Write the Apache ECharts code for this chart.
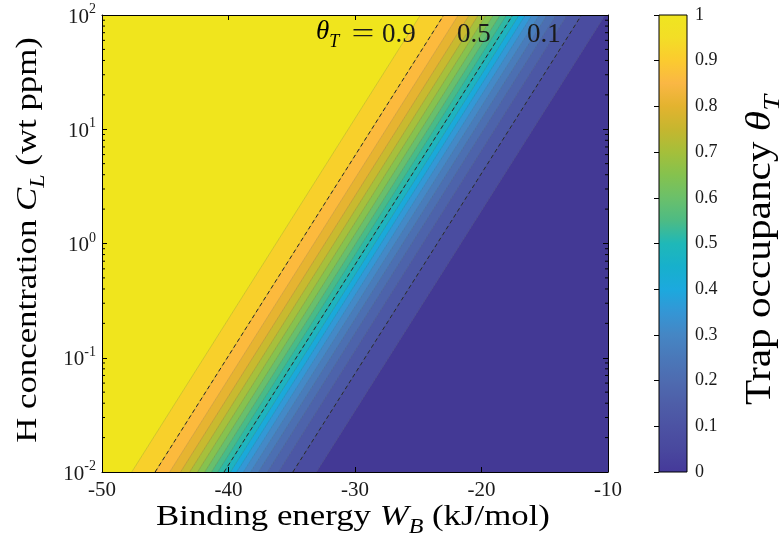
<!DOCTYPE html>
<html>
<head>
<meta charset="utf-8">
<script src="https://cdn.jsdelivr.net/npm/echarts@6/dist/echarts.min.js"></script>
<style>html,body{margin:0;padding:0;background:#fff;}#c{width:783px;height:549px;}</style>
</head>
<body>
<div id="c"></div>
<script>
// ---- data ----
const wbTicks = [-50, -40, -30, -20, -10];          // x tick labels (kJ/mol)
const clExponents = [-2, -1, 0, 1, 2];               // y ticks: 10^e wt ppm
const cbTicks = [0, 0.1, 0.2, 0.3, 0.4, 0.5, 0.6, 0.7, 0.8, 0.9, 1];
// contour levels of theta_T
const levels = [0.05, 0.10, 0.15, 0.20, 0.25, 0.30, 0.35, 0.40, 0.45, 0.50,
                0.55, 0.60, 0.65, 0.70, 0.75, 0.80, 0.85, 0.90, 0.95];
// W_B where each contour crosses C_L = 1e-2 (bottom) and C_L = 1e2 (top)
const wbAtLowC  = [-33.05, -34.91, -36.05, -36.92, -37.63, -38.25, -38.82, -39.35, -39.85, -40.35,
                   -40.85, -41.35, -41.88, -42.45, -43.07, -43.79, -44.65, -45.80, -47.65];
const wbAtHighC = [-10.23, -12.09, -13.23, -14.10, -14.81, -15.43, -16.00, -16.53, -17.03, -17.53,
                   -18.03, -18.53, -19.06, -19.63, -20.25, -20.97, -21.83, -22.98, -24.83];
// fill colour of each band, from theta < 0.05 up to theta > 0.95
const bandColors = ['#433995', '#4A4CA0', '#4C57A5', '#4D63AB', '#4C6FB2', '#497CBB', '#4489C7',
                    '#3398D6', '#1AA9DA', '#1DB3C0', '#2DB8A5', '#48BB88', '#68BF6D', '#86C24F',
                    '#A6C03C', '#C8BA2F', '#E6B431', '#FCBA3D', '#F8D02B', '#F0E51D'];
const dashedLevels = [0.1, 0.5, 0.9];
const levelLabels = ['0.9', '0.5', '0.1'];
// colorbar gradient
const cbStopValues = [0, 0.05, 0.1, 0.15, 0.2, 0.25, 0.3, 0.35, 0.4, 0.45, 0.5,
                      0.55, 0.6, 0.65, 0.7, 0.75, 0.8, 0.85, 0.9, 0.95, 1];
const cbStopColors = ['#45399A', '#49489E', '#4C52A3', '#4E5EA8', '#4E6BB0', '#4A78B9', '#4586C4',
                      '#3496D5', '#1CA9DE', '#17B0CC', '#1FB8B8', '#4DBB84', '#6BC06A', '#85C24E',
                      '#A5BF3A', '#C6B62F', '#E3B32F', '#FAB744', '#FBCB2F', '#F3DE26', '#EFE520'];

const xMin = wbTicks[0], xMax = wbTicks[wbTicks.length - 1];
const cMin = Math.pow(10, clExponents[0]), cMax = Math.pow(10, clExponents[clExponents.length - 1]);

// minor log ticks
const minorVals = [];
for (let e = clExponents[0]; e < clExponents[clExponents.length - 1]; e++) {
  for (let m = 2; m <= 9; m++) minorVals.push(m * Math.pow(10, e));
}

// bands: [leftLow, cMin, leftHigh, cMax, rightHigh, rightLow]
const bandData = bandColors.map((c, k) => {
  const leftLow  = k === levels.length ? xMin : wbAtLowC[k];
  const leftHigh = k === levels.length ? xMin : wbAtHighC[k];
  const rightLow  = k === 0 ? xMax : wbAtLowC[k - 1];
  const rightHigh = k === 0 ? xMax : wbAtHighC[k - 1];
  return [leftLow, cMin, leftHigh, cMax, rightHigh, rightLow];
});
const lineData = levels.map((l, i) => [wbAtLowC[i], cMin, wbAtHighC[i], cMax]);

const FONT = 'Liberation Serif';
const TXT = '#1a1a1a';

function clipOf(params) {
  const cs = params.coordSys;
  return { type: 'rect', shape: { x: cs.x, y: cs.y, width: cs.width, height: cs.height } };
}

const dashedSeries = dashedLevels.map(l => {
  const i = levels.findIndex(v => Math.abs(v - l) < 1e-9);
  return {
    type: 'line', xAxisIndex: 0, yAxisIndex: 0, z: 4, silent: true,
    showSymbol: false, symbol: 'none',
    data: [[wbAtLowC[i], cMin], [wbAtHighC[i], cMax]],
    lineStyle: { color: '#2a2a2a', width: 1, type: [4, 3] }
  };
});

function titleRich(size) {
  return {
    r: { fontFamily: FONT, fontSize: size, color: TXT, verticalAlign: 'top', lineHeight: size + 6 },
    i: { fontFamily: FONT, fontSize: size, fontStyle: 'italic', color: TXT, verticalAlign: 'top', lineHeight: size + 6 },
    sub: { fontFamily: FONT, fontSize: Math.round(size * 0.68), fontStyle: 'italic', color: TXT,
           verticalAlign: 'bottom', lineHeight: Math.round(size * 0.68) }
  };
}

const chart = echarts.init(document.getElementById('c'), null, { renderer: 'canvas' });
chart.setOption({
  animation: false,
  backgroundColor: '#fff',
  grid: [
    { left: 102, top: 15, width: 506, height: 457 },
    { left: 659, top: 15, width: 28, height: 457 }
  ],
  xAxis: [
    { type: 'value', gridIndex: 0, min: xMin, max: xMax, interval: 10, position: 'bottom', z: 10,
      axisLine: { lineStyle: { color: '#000', width: 1 } },
      axisTick: { inside: true, length: 5, lineStyle: { color: '#000' } },
      axisLabel: { fontFamily: FONT, fontSize: 21, color: TXT, margin: 8 },
      splitLine: { show: false } },
    { type: 'value', gridIndex: 0, min: xMin, max: xMax, interval: 10, position: 'top', z: 10,
      axisLine: { lineStyle: { color: '#000', width: 1 } },
      axisTick: { inside: true, length: 5, lineStyle: { color: '#000' } },
      axisLabel: { show: false }, splitLine: { show: false } },
    { type: 'value', gridIndex: 1, min: 0, max: 1, show: false }
  ],
  yAxis: [
    { type: 'log', logBase: 10, gridIndex: 0, min: cMin, max: cMax, position: 'left', z: 10,
      axisLine: { lineStyle: { color: '#000', width: 1 } },
      axisTick: { inside: true, length: 5, lineStyle: { color: '#000' } },
      axisLabel: {
        margin: 6,
        formatter: v => '{b|10}{s|' + Math.round(Math.log10(v)) + '}',
        rich: {
          b: { fontFamily: FONT, fontSize: 21, color: TXT, verticalAlign: 'bottom', lineHeight: 25 },
          s: { fontFamily: FONT, fontSize: 14, color: TXT, verticalAlign: 'top', lineHeight: 14 }
        }
      },
      splitLine: { show: false } },
    { type: 'log', logBase: 10, gridIndex: 0, min: cMin, max: cMax, position: 'right', z: 10,
      axisLine: { lineStyle: { color: '#000', width: 1 } },
      axisTick: { inside: true, length: 5, lineStyle: { color: '#000' } },
      axisLabel: { show: false }, splitLine: { show: false } },
    { type: 'value', gridIndex: 1, min: 0, max: 1, interval: 0.1, position: 'right', z: 10,
      axisLine: { show: false },
      axisTick: { inside: true, length: 5, lineStyle: { color: '#000' } },
      axisLabel: { fontFamily: FONT, fontSize: 18, color: TXT, margin: 8,
                   formatter: v => String(Math.round(v * 10) / 10) },
      splitLine: { show: false } }
  ],
  series: [
    { type: 'custom', xAxisIndex: 0, yAxisIndex: 0, z: 1, silent: true,
      data: bandData,
      encode: { x: 0, y: 1 },
      renderItem: (params, api) => {
        const pts = [
          api.coord([api.value(0), api.value(1)]),
          api.coord([api.value(2), api.value(3)]),
          api.coord([api.value(4), api.value(3)]),
          api.coord([api.value(5), api.value(1)])
        ];
        const col = bandColors[params.dataIndex];
        return { type: 'polygon', shape: { points: pts }, clipPath: clipOf(params),
                 style: { fill: col, stroke: col, lineWidth: 0.6 } };
      } },
    { type: 'custom', xAxisIndex: 0, yAxisIndex: 0, z: 3, silent: true,
      data: lineData,
      encode: { x: 0, y: 1 },
      renderItem: (params, api) => {
        const a = api.coord([api.value(0), api.value(1)]);
        const b = api.coord([api.value(2), api.value(3)]);
        return { type: 'line', clipPath: clipOf(params),
                 shape: { x1: a[0], y1: a[1], x2: b[0], y2: b[1] },
                 style: { stroke: 'rgba(40,40,40,0.28)', lineWidth: 0.6 } };
      } },
    ...dashedSeries,
    // minor log ticks, left and right
    { type: 'custom', xAxisIndex: 0, yAxisIndex: 0, z: 6, silent: true,
      data: minorVals.map(v => [xMin, v]),
      encode: { x: 0, y: 1 },
      renderItem: (params, api) => {
        const p = api.coord([xMin, api.value(1)]);
        const q = api.coord([xMax, api.value(1)]);
        return { type: 'group', children: [
          { type: 'line', shape: { x1: p[0], y1: p[1], x2: p[0] + 3, y2: p[1] }, style: { stroke: '#000', lineWidth: 1 } },
          { type: 'line', shape: { x1: q[0], y1: q[1], x2: q[0] - 3, y2: q[1] }, style: { stroke: '#000', lineWidth: 1 } }
        ] };
      } },
    // colorbar
    { type: 'custom', xAxisIndex: 2, yAxisIndex: 2, z: 2, silent: true,
      data: [[0, 0]],
      renderItem: (params, api) => {
        const a = api.coord([0, 1]);
        const b = api.coord([1, 0]);
        const stops = cbStopValues.map((v, i) => ({ offset: 1 - v, color: cbStopColors[i] }))
                                  .sort((s, t) => s.offset - t.offset);
        return { type: 'rect',
                 shape: { x: a[0], y: a[1], width: b[0] - a[0], height: b[1] - a[1] },
                 style: { fill: new echarts.graphic.LinearGradient(0, 0, 0, 1, stops),
                          stroke: '#000', lineWidth: 1 } };
      } }
  ],
  graphic: [
    { type: 'text', z: 20, x: 353, y: 520, scaleX: 1.2,
      style: { x: 0, y: 0, text: '{r|Binding energy }{i|W}{sub|B}{r| (kJ/mol)}', align: 'center', verticalAlign: 'middle',
        rich: titleRich(29) } },
    { type: 'text', z: 20, x: 31, y: 240, rotation: Math.PI / 2, scaleX: 1.2,
      style: { x: 0, y: 0, text: '{r|H concentration }{i|C}{sub|L}{r| (wt ppm)}', align: 'center', verticalAlign: 'middle',
        rich: titleRich(29) } },
    { type: 'text', z: 20, x: 764, y: 250, rotation: Math.PI / 2, scaleX: 1.18,
      style: { x: 0, y: 0, text: '{r|Trap occupancy }{i|θ}{sub|T}', align: 'center', verticalAlign: 'middle',
        rich: titleRich(35) } },
    { type: 'text', z: 20, x: 0, y: 0,
      style: { x: 316, y: 35, text: '{i|θ}{sub|T}', align: 'left', verticalAlign: 'middle',
        rich: titleRich(27) } },
    { type: 'text', z: 20, x: 363, y: 35, scaleX: 1.5,
      style: { x: 0, y: 0, text: '=', align: 'center', verticalAlign: 'middle',
        fontFamily: FONT, fontSize: 27, fill: TXT } },
    { type: 'text', z: 20, style: { x: 382, y: 35, text: levelLabels[0], align: 'left', verticalAlign: 'middle',
        fontFamily: FONT, fontSize: 27, fill: TXT } },
    { type: 'text', z: 20, style: { x: 457, y: 35, text: levelLabels[1], align: 'left', verticalAlign: 'middle',
        fontFamily: FONT, fontSize: 27, fill: TXT } },
    { type: 'text', z: 20, style: { x: 527, y: 35, text: levelLabels[2], align: 'left', verticalAlign: 'middle',
        fontFamily: FONT, fontSize: 27, fill: TXT } }
  ]
});
</script>
</body>
</html>
